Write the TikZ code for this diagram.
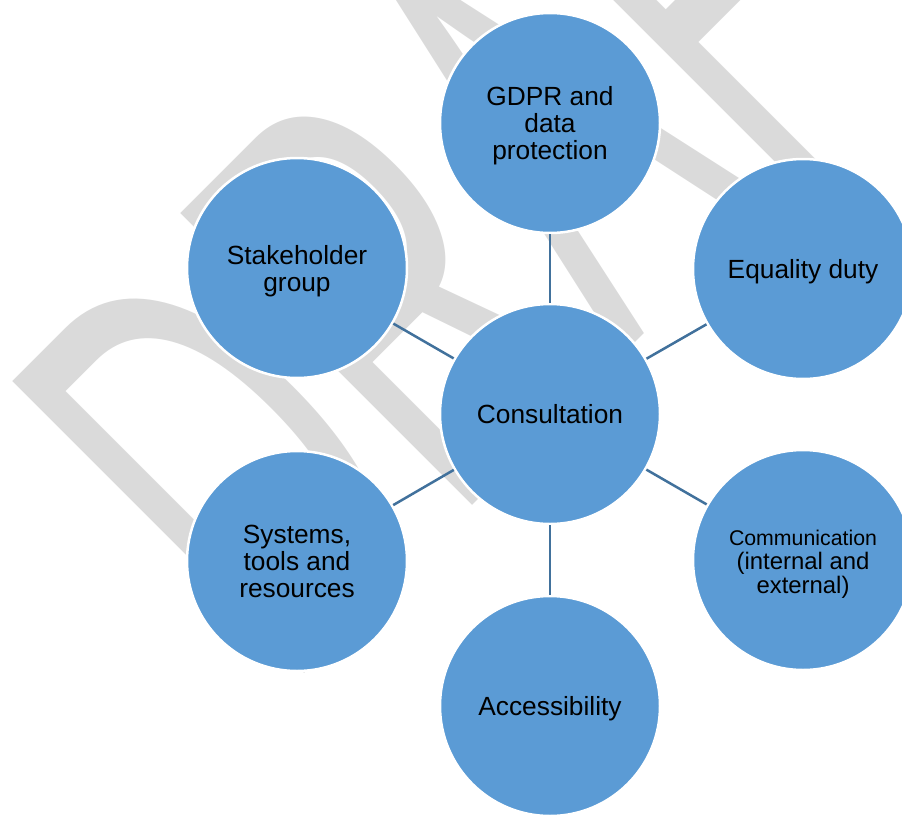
\documentclass[tikz,border=0pt]{standalone}
\usepackage{fontspec}
\setmainfont{Liberation Sans}
\definecolor{bubblefill}{HTML}{5B9BD5}
\definecolor{spokeline}{HTML}{41719C}
\definecolor{wmark}{HTML}{DADADA}
% invisible strut that evens out the top and bottom of a label
\newcommand\toppad[1]{\rule{0pt}{#1}}
\begin{document}
\begin{tikzpicture}[x=1pt,y=-1pt,
  bubble/.style={circle, minimum size=220pt, inner sep=0pt, fill=bubblefill,
    draw=white, line width=2.5pt, align=center, text=black,
    font=\fontsize{26.3}{27}\selectfont},
  spoke/.style={draw=spokeline, line width=2.5pt},
  watermark/.style={rotate=45, xscale=0.548, anchor=base west,
    inner sep=0pt, outer sep=0pt, text=wmark,
    font=\fontsize{600}{600}\selectfont}]
\useasboundingbox (0,0) rectangle (902,814);
\clip (0,0) rectangle (902,814);

% background watermark
\node[watermark] (draft) at (285.7,692.4) {DRAFT};

% bubbles
\node[bubble] (hub)   at (550,414) {Consultation};
\node[bubble] (gdpr)  at (550,123) {\toppad{25pt}GDPR and\\data\\protection};
\node[bubble] (equal) at (803,269) {\toppad{25pt}Equality duty};
\node[bubble, font=\fontsize{23.9}{23.6}\selectfont] (comm) at (803,560)
  {{\fontsize{21.3}{23.6}\selectfont\toppad{24pt}Communication}\\
   (internal and\\
   external)};
\node[bubble] (access) at (550,706) {\toppad{25pt}Accessibility};
\node[bubble] (tools) at (297,561) {Systems,\\tools and\\resources};
\node[bubble] (stake) at (297,268) {\toppad{25pt}Stakeholder\\group};

% spokes from the hub
\foreach \n in {gdpr,equal,comm,access,tools,stake}
  \path[spoke] (hub) -- (\n);
\end{tikzpicture}
\end{document}
